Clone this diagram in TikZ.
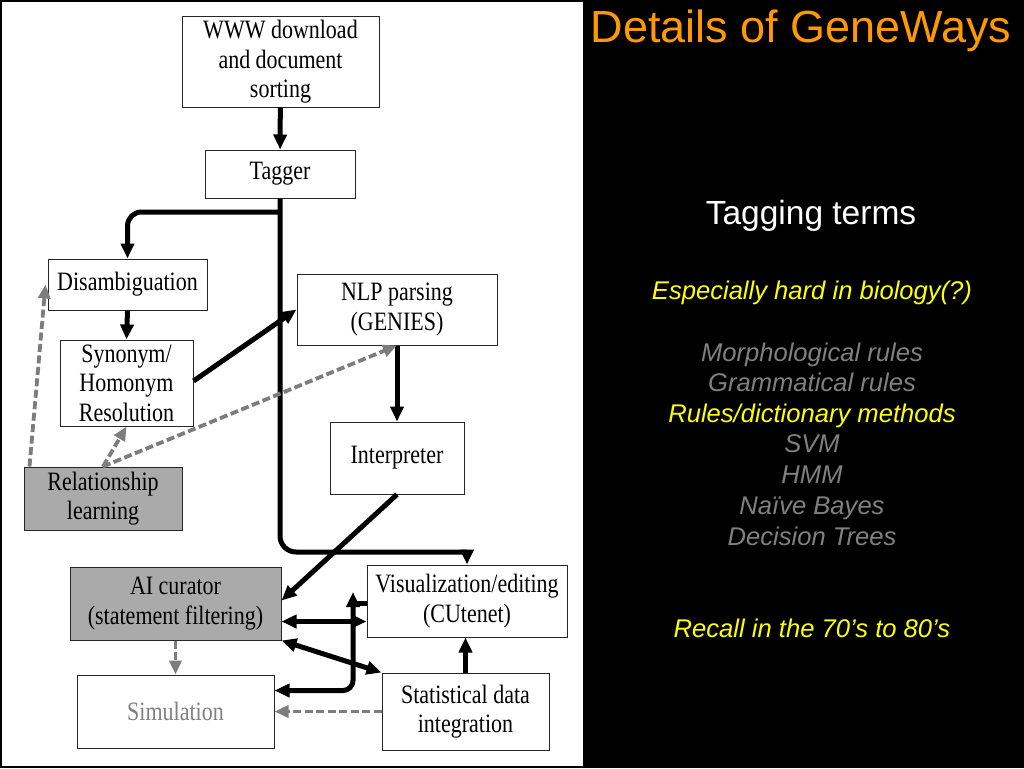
\documentclass[tikz,border=0pt]{standalone}
\usepackage{fontspec}
\setmainfont{Liberation Serif}
\newfontfamily\dgfont[FakeStretch=0.83]{Liberation Serif}
\newfontfamily\arialfont{Liberation Sans}
\usetikzlibrary{arrows.meta}
\definecolor{ttl}{RGB}{255,153,0}
\definecolor{ylw}{RGB}{255,255,0}
\definecolor{gtxt}{RGB}{128,128,128}
\definecolor{bfill}{RGB}{170,170,170}
\definecolor{dgray}{RGB}{125,125,125}
\begin{document}
\begin{tikzpicture}[x=1pt,y=-1pt,
  box/.style={draw=black!85,line width=1pt,fill=white,align=center,inner sep=0pt,
    font=\dgfont\fontsize{26.5}{29.5}\selectfont},
  gbox/.style={box,fill=bfill},
  thk/.style={line width=5pt,draw=black},
  thkarrow/.style={thk,-{Triangle[length=15pt,width=13pt]}},
  thkdbl/.style={thk,{Triangle[length=15pt,width=13pt]}-{Triangle[length=15pt,width=13pt]}},
  dsh/.style={line width=3.8pt,draw=dgray,dash pattern=on 8pt off 3.5pt,-{Triangle[length=14pt,width=12pt]}},
  rtxt/.style={font=\arialfont\itshape\fontsize{25.6}{30}\selectfont,anchor=base}
]
\useasboundingbox (0,0) rectangle (1024,768);
\fill[black] (0,0) rectangle (1024,768);
\fill[white] (2,2) rectangle (583,766);

% boxes
\node[box,minimum width=197pt,minimum height=90pt] (www) at (280.5,62) {WWW download\\and document\\sorting};
\node[box,minimum width=150pt,minimum height=48pt] (tagger) at (280,174) {Tagger};
\node[box,minimum width=159pt,minimum height=51pt] (dis) at (127.5,284.5) {Disambiguation};
\node[box,minimum width=133pt,minimum height=86pt] (syn) at (126.5,383) {Synonym/\\Homonym\\Resolution};
\node[box,minimum width=200pt,minimum height=71pt] (nlp) at (397,309.5) {NLP parsing\\(GENIES)};
\node[box,minimum width=134pt,minimum height=72pt] (interp) at (397,458) {Interpreter};
\node[gbox,minimum width=158pt,minimum height=63pt] (rel) at (103,498.5) {Relationship\\learning};
\node[gbox,minimum width=211pt,minimum height=73pt] (ai) at (175.5,603.5) {AI curator\\(statement filtering)};
\node[box,minimum width=200pt,minimum height=72pt] (vis) at (467,601) {Visualization/editing\\(CUtenet)};
\node[box,minimum width=197pt,minimum height=73pt,text=gtxt] (sim) at (175.5,711.5) {Simulation};
\node[box,minimum width=167pt,minimum height=77pt] (stat) at (465.5,711.5) {Statistical data\\integration};

% solid connectors
\draw[thkarrow] (www) -- (tagger);
\coordinate (j1) at (280,212);
\draw[thkarrow,rounded corners=14pt] (j1) -| (dis.north);
\coordinate (c2) at (vis.north |- 0,552);
\draw[thk,rounded corners=16pt] (tagger.south) |- (c2);
\draw[thkarrow] ([yshift=2.5pt]c2) -- (vis.north);
\draw[thkarrow] (dis.south) -- (syn.north);
\draw[thkarrow] ([yshift=2pt]syn.east) -- (nlp.west);
\draw[thkarrow] (interp.south) -- ([yshift=3pt]ai.east);
\draw[thkarrow] (nlp.south) -- (interp.north);
\coordinate (p1) at ([yshift=-18pt]ai.east);
\draw[thkdbl] (p1) -- (p1 -| vis.west);
\draw[thkdbl] (ai.south east) -- (stat.north west);
\draw[thkarrow] (stat.north) -- (stat.north |- vis.south);
\coordinate (q1) at (353,592);
\coordinate (q2) at ([yshift=21pt]sim.east);
\draw[thkdbl,rounded corners=10pt] (q1) |- (q2);
\coordinate (q3) at (353,603);
\draw[thk] (q3) -- (q3 -| vis.west);

% dashed connectors
\draw[dsh] (ai.south) -- (sim.north);
\draw[dsh] (stat.west) -- (sim.east);
\draw[dsh] ([xshift=6pt]rel.north west) -- ([xshift=-2pt]dis.west);
\draw[dsh] (rel.north) -- (syn.south);
\draw[dsh] (rel.north) -- (nlp.south);

% right side text
\node[font=\arialfont\fontsize{45}{54}\selectfont,text=ttl,anchor=base] (title) at (801,42) {Details of GeneWays};
\node[font=\arialfont\fontsize{33.5}{40}\selectfont,text=white,anchor=base] (tag) at (811,224) {Tagging terms};
\node[rtxt,text=ylw] (esp) at (812,299) {Especially hard in biology(?)};
\node[rtxt,text=gtxt] (m1) at (812,361) {Morphological rules};
\node[rtxt,text=gtxt] (m2) at (812,391) {Grammatical rules};
\node[rtxt,text=ylw] (m3) at (812,422) {Rules/dictionary methods};
\node[rtxt,text=gtxt] (m4) at (812,452) {SVM};
\node[rtxt,text=gtxt] (m5) at (812,483) {HMM};
\node[rtxt,text=gtxt] (m6) at (812,514) {Naïve Bayes};
\node[rtxt,text=gtxt] (m7) at (812,545) {Decision Trees};
\node[rtxt,text=ylw] (rec) at (812,637) {Recall in the 70’s to 80’s};
\end{tikzpicture}
\end{document}
